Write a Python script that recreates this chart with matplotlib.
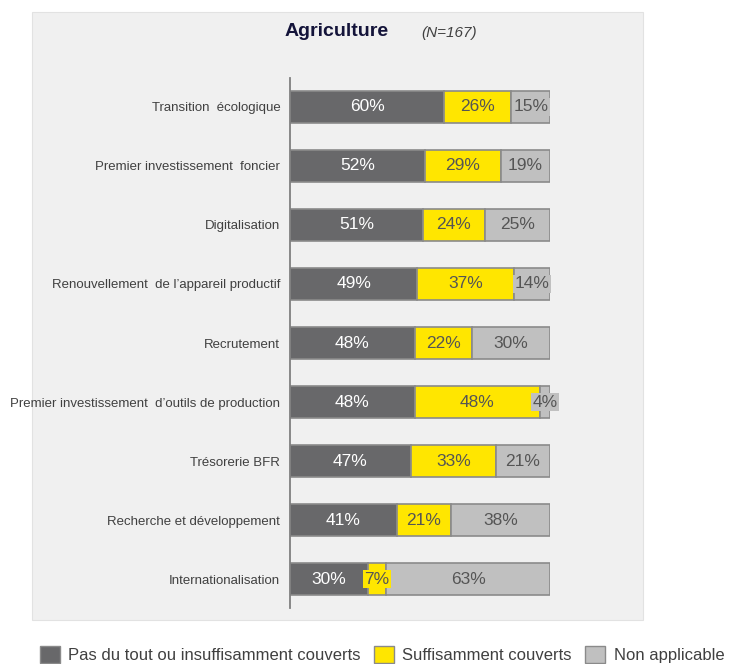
import matplotlib.pyplot as plt
import matplotlib.patches as mpatches
import numpy as np

plt.rcParams['font.family'] = ['Liberation Sans', 'DejaVu Sans']

categories = [
    "Transition  écologique",
    "Premier investissement  foncier",
    "Digitalisation",
    "Renouvellement  de l\u2019appareil productif",
    "Recrutement",
    "Premier investissement  d\u2019outils de production",
    "Trésorerie BFR",
    "Recherche et développement",
    "Internationalisation",
]
pas_couverts = [60, 52, 51, 49, 48, 48, 47, 41, 30]
suffisant = [26, 29, 24, 37, 22, 48, 33, 21, 7]
non_applicable = [15, 19, 25, 14, 30, 4, 21, 38, 63]

series_names = ["Pas du tout ou insuffisamment couverts", "Suffisamment couverts", "Non applicable"]
colors = ["#68686a", "#ffe600", "#c0c0c0"]
text_colors = ["white", "#555555", "#555555"]

W, H = 731, 664
fig = plt.figure(figsize=(W / 100, H / 100), dpi=100)

# grey panel behind the chart
panel = mpatches.Rectangle((32 / W, 1 - 620 / H), (643 - 32) / W, (620 - 12) / H,
                           transform=fig.transFigure, facecolor="#f0f0f0",
                           edgecolor="#e2e2e2", lw=0.8, zorder=-5)
fig.patches.append(panel)

ax = fig.add_axes([290 / W, 1 - 608 / H, 260 / W, 530 / H])
ax.set_facecolor("none")
ax.set_zorder(2)

data = np.array([pas_couverts, suffisant, non_applicable], dtype=float)
totals = data.sum(axis=0)
y = np.arange(len(categories))
left = np.zeros(len(categories))
for k in range(3):
    vals = data[k] / totals * 100
    ax.barh(y, vals, left=left, height=0.55, color=colors[k], edgecolor="#8a8a8a",
            lw=1.2, label=series_names[k], zorder=2)
    for i in range(len(categories)):
        ax.text(left[i] + vals[i] / 2, y[i], f"{int(data[k][i])}%", ha="center", va="center",
                fontsize=12.5, color=text_colors[k], zorder=3,
                bbox=dict(boxstyle="square,pad=0.08", facecolor=colors[k], edgecolor="none"))
    left += vals

ax.set_xlim(0, 100)
ax.set_ylim(len(categories) - 0.51, -0.49)
ax.set_yticks(y)
ax.set_yticklabels(categories, fontsize=9.5, color="#404040")
ax.tick_params(axis="y", length=0, pad=7)
ax.set_xticks([])
for s in ["top", "right", "bottom"]:
    ax.spines[s].set_visible(False)
ax.spines["left"].set_color("#808080")
ax.spines["left"].set_linewidth(1.3)

fig.text(337 / W, 1 - 32 / H, "Agriculture", ha="center", va="center", fontsize=14,
         fontweight="bold", color="#14143a")
fig.text(449 / W, 1 - 33 / H, "(N=167)", ha="center", va="center", fontsize=11,
         style="italic", color="#404040")

handles = [mpatches.Patch(facecolor=c, edgecolor="#8a8a8a", lw=1) for c in colors]
leg = fig.legend(handles, series_names, loc="lower left", bbox_to_anchor=(30 / W, -0.014),
                 ncol=3, frameon=False, fontsize=12, handlelength=1.2, handleheight=1.2,
                 handletextpad=0.5, columnspacing=0.8, borderaxespad=0.2)
for t in leg.get_texts():
    t.set_color("#404040")

fig.savefig("out.png", dpi=100, facecolor="white")
